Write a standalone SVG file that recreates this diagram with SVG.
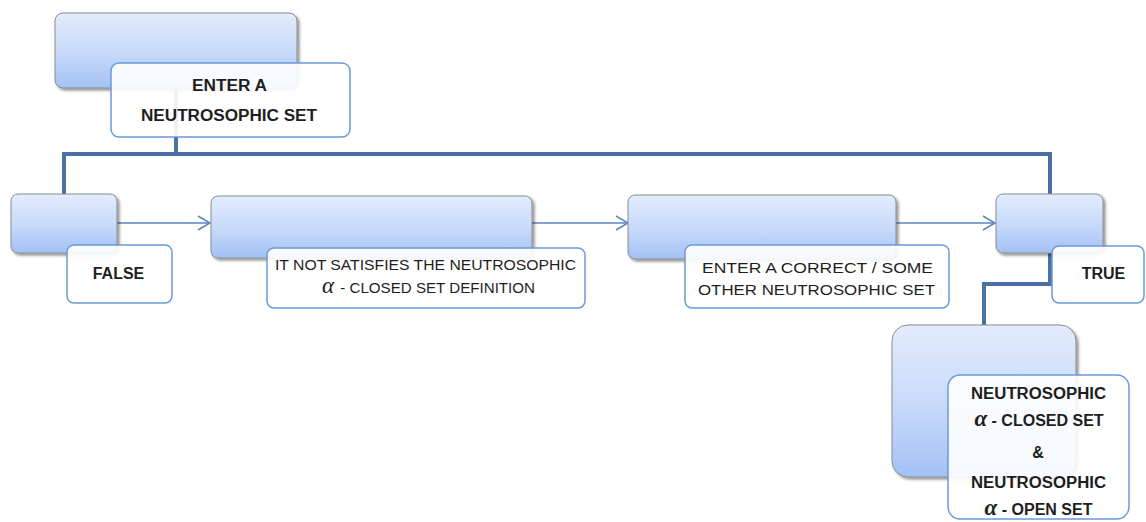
<svg xmlns="http://www.w3.org/2000/svg" width="1146" height="522" viewBox="0 0 1146 522">
<defs>
<linearGradient id="blueGrad" x1="0" y1="0" x2="0" y2="1">
<stop offset="0" stop-color="#e2ecfd"/>
<stop offset="0.5" stop-color="#c9dbfa"/>
<stop offset="1" stop-color="#a3c1f5"/>
</linearGradient>
<filter id="shadow" x="-10%" y="-10%" width="125%" height="130%">
<feGaussianBlur in="SourceAlpha" stdDeviation="1.5"/>
<feOffset dx="1.5" dy="2" result="b"/>
<feComponentTransfer><feFuncA type="linear" slope="0.45"/></feComponentTransfer>
<feMerge><feMergeNode/><feMergeNode in="SourceGraphic"/></feMerge>
</filter>
<marker id="open" markerWidth="14" markerHeight="16" refX="13" refY="8" orient="auto" markerUnits="userSpaceOnUse">
<path d="M1,1 L13,8 L1,15" fill="none" stroke="#5a86c2" stroke-width="1.5"/>
</marker>
<style>
.box{fill:url(#blueGrad);stroke:#8c8c8c;stroke-width:1;filter:url(#shadow)}
.lbl{fill:#ffffff;fill-opacity:0.9;stroke:#6a9bd8;stroke-width:1.5}
.trunk{fill:none;stroke:#4a70a6;stroke-width:4;stroke-linejoin:miter}
.arrow{fill:none;stroke:#5a86c2;stroke-width:1.5;marker-end:url(#open)}
.b{font-family:"Liberation Sans",Arial,sans-serif;font-weight:bold;font-size:16px;fill:#1e1e1e;text-anchor:middle}
.r{font-family:"Liberation Sans",Arial,sans-serif;font-size:15px;fill:#1e1e1e}
.a{font-family:"Liberation Serif","DejaVu Serif",serif;font-style:italic;font-size:23px}
</style>
</defs>
<rect width="1146" height="522" fill="#ffffff"/>
<g id="connectors">
<path class="trunk" d="M176,89 V154 M64,194 V154 H1050 V194 M1050,253 V284 H984 V325"/>
<line class="arrow" x1="117" y1="223" x2="210" y2="223"/>
<line class="arrow" x1="532" y1="223" x2="628" y2="223"/>
<line class="arrow" x1="896" y1="223" x2="995" y2="223"/>
</g>
<g id="node-enter">
<rect class="box" x="55" y="13" width="242" height="75" rx="8"/>
<rect class="lbl" x="111" y="63" width="239" height="74" rx="8"/>
<text class="b" x="229.5" y="91" textLength="75" lengthAdjust="spacingAndGlyphs">ENTER A</text>
<text class="b" x="229" y="121" textLength="176" lengthAdjust="spacingAndGlyphs">NEUTROSOPHIC SET</text>
</g>
<g id="node-false">
<rect class="box" x="11" y="194" width="106" height="59" rx="7"/>
<rect class="lbl" x="67" y="245" width="105" height="58" rx="7"/>
<text class="b" x="118.5" y="279">FALSE</text>
</g>
<g id="node-not">
<rect class="box" x="211" y="196" width="321" height="62" rx="7"/>
<rect class="lbl" x="267" y="248" width="318" height="60" rx="7"/>
<text class="r" x="275" y="270" textLength="301" lengthAdjust="spacingAndGlyphs">IT NOT SATISFIES THE NEUTROSOPHIC</text>
<text class="r" x="322" y="293"><tspan class="a">α</tspan><tspan x="336" textLength="199" lengthAdjust="spacingAndGlyphs"> - CLOSED SET DEFINITION</tspan></text>
</g>
<g id="node-correct">
<rect class="box" x="628" y="195" width="268" height="64" rx="7"/>
<rect class="lbl" x="685" y="245" width="264" height="63" rx="7"/>
<text class="r" x="817.5" y="273" text-anchor="middle" textLength="231" lengthAdjust="spacingAndGlyphs">ENTER A CORRECT / SOME</text>
<text class="r" x="816.5" y="295" text-anchor="middle" textLength="237" lengthAdjust="spacingAndGlyphs">OTHER NEUTROSOPHIC SET</text>
</g>
<g id="node-true">
<rect class="box" x="996" y="194" width="107" height="59" rx="7"/>
<rect class="lbl" x="1052" y="246" width="92" height="57" rx="7"/>
<text class="b" x="1103.5" y="279">TRUE</text>
</g>
<g id="node-result">
<rect class="box" x="892" y="325" width="184" height="152" rx="16"/>
<rect class="lbl" x="948" y="375" width="181" height="144" rx="12"/>
<text class="b" x="1038.5" y="399" textLength="135" lengthAdjust="spacingAndGlyphs">NEUTROSOPHIC</text>
<text class="b" x="1039" y="426"><tspan class="a">α</tspan> - CLOSED SET</text>
<text class="b" x="1038" y="458">&amp;</text>
<text class="b" x="1038.5" y="488" textLength="135" lengthAdjust="spacingAndGlyphs">NEUTROSOPHIC</text>
<text class="b" x="1038.5" y="515"><tspan class="a">α</tspan> - OPEN SET</text>
</g>
</svg>
